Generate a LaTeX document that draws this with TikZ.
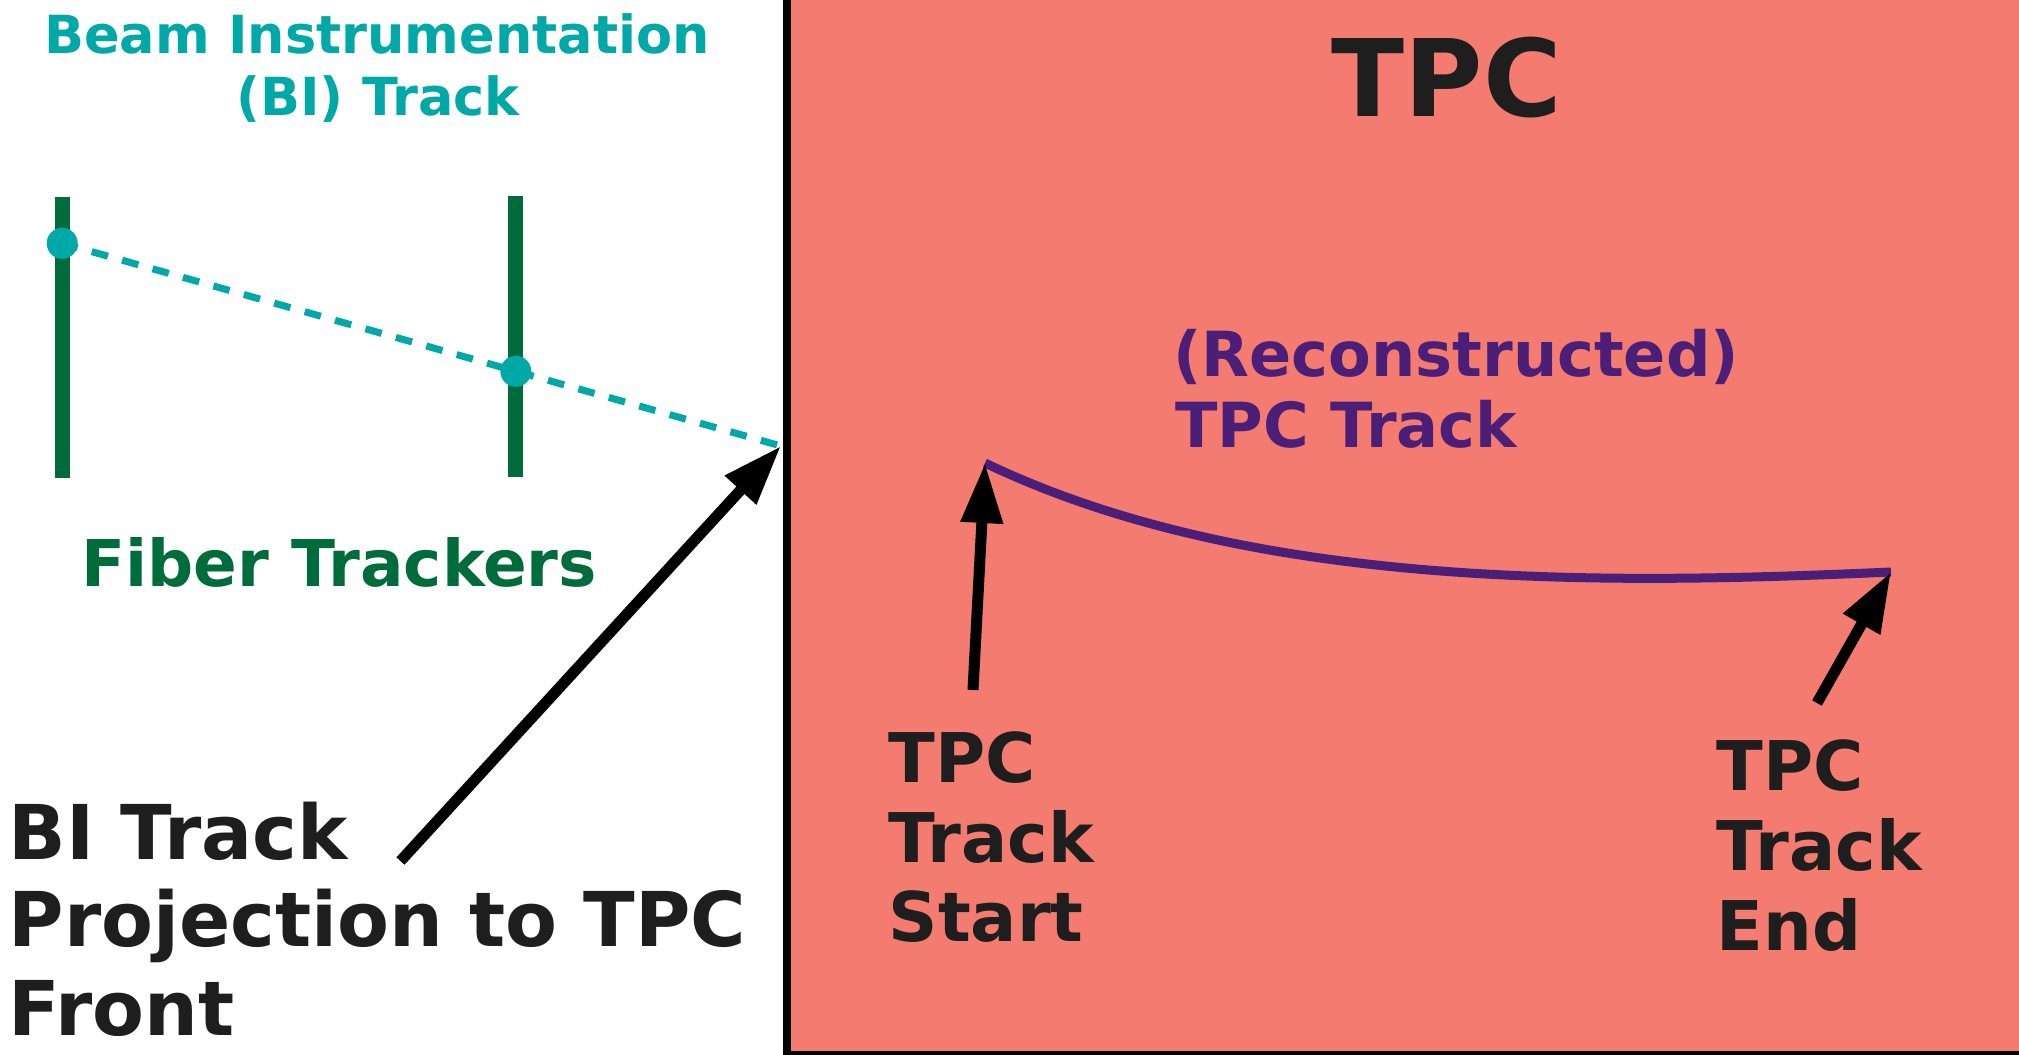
\documentclass[tikz,border=0pt]{standalone}
\usepackage{fontspec}
\setmainfont{DejaVu Sans}
\usetikzlibrary{arrows.meta}
\definecolor{tpcpink}{HTML}{F37B70}
\definecolor{biteal}{HTML}{00A8A8}
\definecolor{fibgreen}{HTML}{006C3C}
\definecolor{trkpurple}{HTML}{4B1E78}
\definecolor{txtdark}{HTML}{1E1E1E}
\tikzset{
  lbl/.style={inner sep=0pt, anchor=base west, text=txtdark},
  fsize/.style={font=\fontsize{#1}{#1}\selectfont\bfseries},
  tracker/.style={draw=fibgreen, line width=15pt},
  hitdot/.style={circle, fill=biteal, inner sep=0pt, minimum size=31pt},
  projline/.style={draw=biteal, line width=7pt, dash pattern=on 16.8pt off 14.8pt, dash phase=0.9pt},
  ptr/.style={draw=black, line width=11pt, -{Triangle[length=60pt,width=40pt]}},
  trk/.style={draw=trkpurple, line width=9pt},
}
\begin{document}
\begin{tikzpicture}[x=1pt,y=-1pt]
\useasboundingbox (0,0) rectangle (2019,1055);
\fill[white] (0,0) rectangle (2019,1055);
% TPC box
\draw[line width=8pt, fill=tpcpink] (786.7,-30) rectangle (2060,1055);
% fiber trackers
\draw[tracker] (62,196.7) -- (62,478.3);
\draw[tracker] (515,195.7) -- (515,477.3);
% BI track
\coordinate (p1) at (62.2,243.3);
\coordinate (p2) at (515.8,371.3);
\coordinate (proj) at (781,446);
\draw[projline] (p1) -- (proj);
\node[hitdot] (d1) at (p1) {};
\node[hitdot] (d2) at (p2) {};
% titles left
\node[inner sep=0pt, anchor=base, text=biteal, fsize=52.5] (bt1) at (377,53.3) {Beam Instrumentation};
\node[inner sep=0pt, anchor=base, text=biteal, fsize=52.5] (bt2) at (378,115) {(BI) Track};
\node[lbl, text=fibgreen, fsize=64.5] (fib) at (81,586) {Fiber Trackers};
\node[lbl, fsize=75.6] (bi1) at (8.6,859.3) {BI Track};
\node[lbl, fsize=75.6] (bi2) at (8.6,946.7) {Projection to TPC};
\node[lbl, fsize=75.6] (bi3) at (8.6,1035) {Front};
% BI arrow
\coordinate (bitail) at (400.5,861);
\draw[ptr] (bitail) -- (proj);
% TPC title
\node[lbl, fsize=107] (tpc) at (1331.5,116.7) {TPC};
\node[lbl, text=trkpurple, fsize=62.2] (rec1) at (1173,376) {(Reconstructed)};
\node[lbl, text=trkpurple, fsize=62.2] (rec2) at (1175,447.7) {TPC Track};
% TPC track
\coordinate (ts) at (985,463);
\coordinate (te) at (1891,572);
\draw[trk] (ts) .. controls (1250,590) and (1600,585) .. (te);
% start / end arrows
\coordinate (st) at (973,690);
\coordinate (et) at (1817,703);
\draw[ptr] (st) -- (ts);
\draw[ptr] (et) -- (te);
% labels
\node[lbl, fsize=68.5] (s1) at (888.5,782.7) {TPC};
\node[lbl, fsize=68.5] (s2) at (888.5,862.3) {Track};
\node[lbl, fsize=68.5] (s3) at (888.5,941.7) {Start};
\node[lbl, fsize=68.5] (e1) at (1716.5,790) {TPC};
\node[lbl, fsize=68.5] (e2) at (1716.5,870.7) {Track};
\node[lbl, fsize=68.5] (e3) at (1716.5,950.7) {End};
\end{tikzpicture}
\end{document}
